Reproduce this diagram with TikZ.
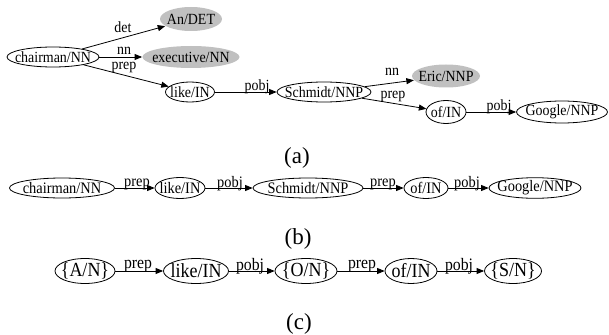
\documentclass[tikz,border=0pt]{standalone}
\usepackage{fontspec}
\usepackage{graphicx}
\setmainfont{Liberation Serif}
\usetikzlibrary{shapes.geometric,arrows.meta}
\newcommand{\nt}[1]{\makebox[0pt]{\scalebox{0.9}[1]{#1}}}
\newcommand{\nl}[1]{\scalebox{0.9}[1]{#1}}
\definecolor{ggray}{RGB}{192,192,192}
\tikzset{
  basen/.style={ellipse, inner sep=0pt, line width=0.8pt},
  wn/.style={basen, draw},
  gn/.style={basen, fill=ggray},
  fa/.style={font=\fontsize{15.5}{17}\selectfont},
  fb/.style={font=\fontsize{16}{18}\selectfont},
  fc/.style={font=\fontsize{20}{22}\selectfont},
  la/.style={inner sep=0pt, font=\fontsize{15.5}{17}\selectfont},
  lb/.style={inner sep=0pt, font=\fontsize{16}{18}\selectfont},
  lc/.style={inner sep=0pt, font=\fontsize{17.5}{19}\selectfont},
  capt/.style={inner sep=0pt, font=\fontsize{23}{26}\selectfont},
  conn/.style={draw, line width=0.8pt, -{Triangle[length=7.5pt,width=6pt]}},
}
\begin{document}
\begin{tikzpicture}[x=1pt,y=-1pt]
\useasboundingbox (0,0) rectangle (609,334);
% (a)
\node[wn,fa,minimum width=92pt,minimum height=20pt] (ch) at (53,57) {\nt{chairman/NN}};
\node[gn,fa,minimum width=62pt,minimum height=24pt] (an) at (191,19) {\nt{An/DET}};
\node[gn,fa,minimum width=97pt,minimum height=22pt] (ex) at (191,57) {\nt{executive/NN}};
\node[wn,fa,minimum width=49pt,minimum height=20pt] (lk) at (190,92) {\nt{like/IN}};
\node[wn,fa,minimum width=94pt,minimum height=20pt] (sc) at (324,92) {\nt{Schmidt/NNP}};
\node[gn,fa,minimum width=68pt,minimum height=23pt] (er) at (446,76) {\nt{Eric/NNP}};
\node[wn,fa,minimum width=40pt,minimum height=23pt] (of) at (446,112) {\nt{of/IN}};
\node[wn,fa,minimum width=91pt,minimum height=22pt] (go) at (562,112) {\nt{Google/NNP}};
\draw[conn] (ch) -- (an);
\draw[conn] (ch) -- (ex);
\draw[conn] (ch) -- (lk);
\draw[conn] (lk) -- (sc);
\draw[conn] (sc) -- (er);
\draw[conn] (sc) -- (of);
\draw[conn] (of) -- (go);
\node[la] (la1) at (123,27) {\nl{det}};
\node[la] (la2) at (124,51) {\nl{nn}};
\node[la] (la3) at (124,67) {\nl{prep}};
\node[la] (la4) at (257,87) {\nl{pobj}};
\node[la] (la5) at (392,72) {\nl{nn}};
\node[la] (la6) at (393,96) {\nl{prep}};
\node[la] (la7) at (499,107) {\nl{pobj}};
\node[capt] (ca) at (297,158) {(a)};
% (b)
\node[wn,fb,minimum width=105pt,minimum height=20pt] (b1) at (62,188) {\nt{chairman/NN}};
\node[wn,fb,minimum width=50pt,minimum height=21pt] (b2) at (180,188) {\nt{like/IN}};
\node[wn,fb,minimum width=110pt,minimum height=20pt] (b3) at (308,188) {\nt{Schmidt/NNP}};
\node[wn,fb,minimum width=44pt,minimum height=21pt] (b4) at (426,188) {\nt{of/IN}};
\node[wn,fb,minimum width=92pt,minimum height=20pt] (b5) at (535,188) {\nt{Google/NNP}};
\draw[conn] (b1) -- (b2);
\draw[conn] (b2) -- (b3);
\draw[conn] (b3) -- (b4);
\draw[conn] (b4) -- (b5);
\node[lb] (lb1) at (137,184) {\nl{prep}};
\node[lb] (lb2) at (230,184) {\nl{pobj}};
\node[lb] (lb3) at (383,184) {\nl{prep}};
\node[lb] (lb4) at (467,184) {\nl{pobj}};
\node[capt] (cb) at (298,239) {(b)};
% (c)
\node[wn,fc,minimum width=60pt,minimum height=25pt] (c1) at (85,271) {\nt{\{A/N\}}};
\node[wn,fc,minimum width=65pt,minimum height=25pt] (c2) at (196,271) {\nt{like/IN}};
\node[wn,fc,minimum width=62pt,minimum height=25pt] (c3) at (306,271) {\nt{\{O/N\}}};
\node[wn,fc,minimum width=52pt,minimum height=25pt] (c4) at (411,271) {\nt{of/IN}};
\node[wn,fc,minimum width=57pt,minimum height=25pt] (c5) at (513,271) {\nt{\{S/N\}}};
\draw[conn] (c1) -- (c2);
\draw[conn] (c2) -- (c3);
\draw[conn] (c3) -- (c4);
\draw[conn] (c4) -- (c5);
\node[lc] (lc1) at (138,266) {\nl{prep}};
\node[lc] (lc2) at (250,266) {\nl{pobj}};
\node[lc] (lc3) at (362,266) {\nl{prep}};
\node[lc] (lc4) at (459,266) {\nl{pobj}};
\node[capt] (cc) at (299,324) {(c)};
\end{tikzpicture}
\end{document}
